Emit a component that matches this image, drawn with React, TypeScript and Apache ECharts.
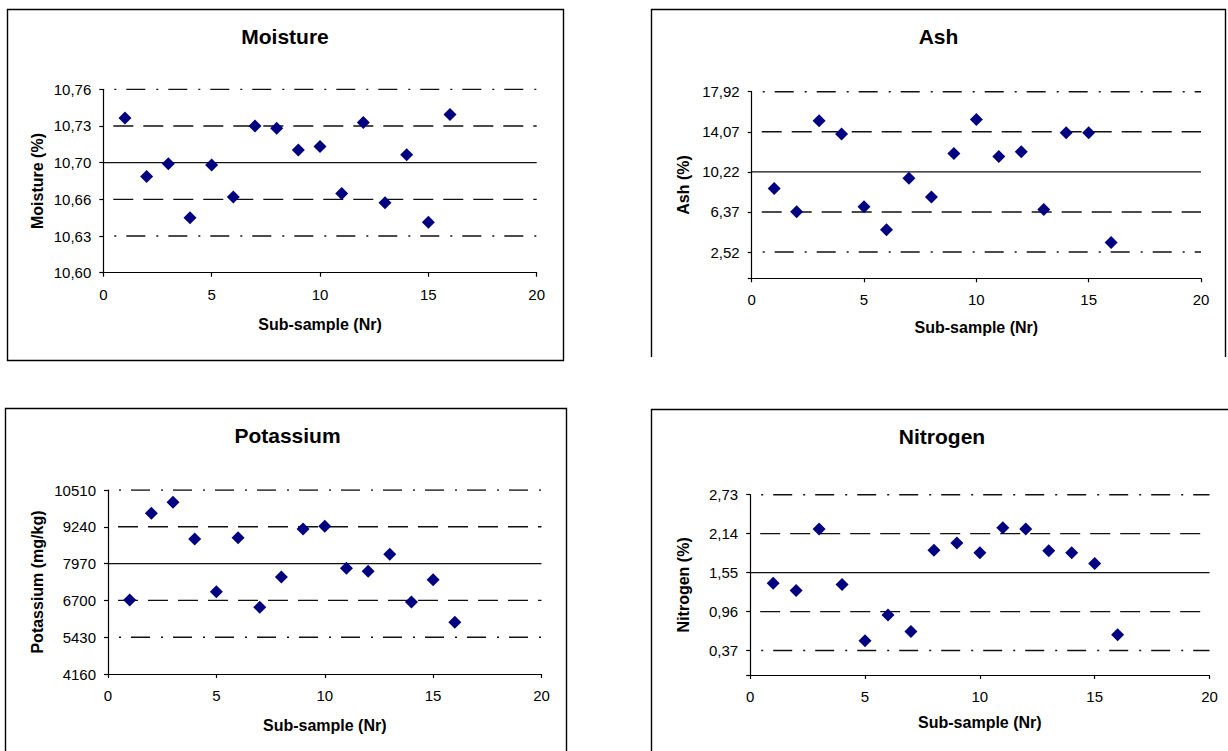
import { useEffect, useRef } from 'react';
import * as echarts from 'echarts';

// ---- data ----
const subSamples = [1, 2, 3, 4, 5, 6, 7, 8, 9, 10, 11, 12, 13, 14, 15, 16];

const moistureValues = [10.735, 10.684, 10.695, 10.648, 10.694, 10.666, 10.728, 10.726, 10.707, 10.71, 10.669, 10.731, 10.661, 10.703, 10.644, 10.738];
const ashValues = [8.62, 6.4, 15.13, 13.85, 6.88, 4.67, 9.61, 7.81, 11.98, 15.26, 11.7, 12.15, 6.6, 13.97, 13.97, 3.45];
const potassiumValues = [6714, 9705, 10084, 8819, 7001, 8865, 6461, 7508, 9164, 9256, 7807, 7703, 8290, 6645, 7416, 5943];
const nitrogenValues = [1.39, 1.28, 2.21, 1.37, 0.52, 0.91, 0.66, 1.89, 2.0, 1.85, 2.23, 2.21, 1.88, 1.85, 1.69, 0.61];

// mean-2sd, mean-sd, mean, mean+sd, mean+2sd
const moistureLevels = [10.632, 10.664, 10.696, 10.728, 10.76];
const ashLevels = [2.52, 6.37, 10.22, 14.07, 17.92];
const potassiumLevels = [5430, 6700, 7970, 9240, 10510];
const nitrogenLevels = [0.37, 0.96, 1.55, 2.14, 2.73];

// y tick label values
const moistureTickLabels = [10.6, 10.632, 10.664, 10.696, 10.728, 10.76];
const ashTickLabels = [2.52, 6.37, 10.22, 14.07, 17.92];
const potassiumTickLabels = [4160, 5430, 6700, 7970, 9240, 10510];
const nitrogenTickLabels = [0.37, 0.96, 1.55, 2.14, 2.73];

const xTickLabels = [0, 5, 10, 15, 20];

const titles = ['Moisture', 'Ash', 'Potassium', 'Nitrogen'];
const yNames = ['Moisture (%)', 'Ash (%)', 'Potassium (mg/kg)', 'Nitrogen (%)'];
const xName = 'Sub-sample (Nr)';

// ---- layout (pixels) ----
const panels = [
  { values: moistureValues, levels: moistureLevels, labels: moistureTickLabels, ticks: moistureTickLabels, min: 10.6, max: 10.76, dec: 2,
    grid: { left: 103.3, top: 89.3, width: 433.4, height: 183.4 }, title: [285, 36.5], yGap: 58, xGap: 44 },
  { values: ashValues, levels: ashLevels, labels: ashTickLabels, ticks: [0].concat(ashTickLabels), min: 0, max: 17.92, dec: 2,
    grid: { left: 751.7, top: 91.7, width: 449.3, height: 186.6 }, title: [938.5, 36.5], yGap: 60, xGap: 41 },
  { values: potassiumValues, levels: potassiumLevels, labels: potassiumTickLabels, ticks: potassiumTickLabels, min: 4160, max: 10510, dec: 0,
    grid: { left: 108, top: 490, width: 433.5, height: 184 }, title: [287.5, 435.5], yGap: 63, xGap: 43 },
  { values: nitrogenValues, levels: nitrogenLevels, labels: nitrogenTickLabels, ticks: [0].concat(nitrogenTickLabels), min: 0, max: 2.73, dec: 2,
    grid: { left: 750.2, top: 494.7, width: 459.3, height: 180.3 }, title: [942, 436.5], yGap: 59, xGap: 39 },
];

const levelStyles: any[] = [
  { type: [19, 11, 2, 10], dashOffset: 19 },
  { type: [20, 10], dashOffset: 20 },
  { type: 'solid' },
  { type: [20, 10], dashOffset: 20 },
  { type: [19, 11, 2, 10], dashOffset: 19 },
];

const tickFont = { color: '#000', fontSize: 15, fontFamily: 'Liberation Sans, Arial, sans-serif' };
const nameFont = { color: '#000', fontSize: 16, fontWeight: 'bold' as const, fontFamily: 'Liberation Sans, Arial, sans-serif' };

function buildOption() {
  const grid: any[] = [];
  const xAxis: any[] = [];
  const yAxis: any[] = [];
  const series: any[] = [];
  const graphic: any[] = [];

  panels.forEach((p, i) => {
    grid.push({ ...p.grid, containLabel: false });
    xAxis.push({
      type: 'value', gridIndex: i, min: 0, max: 20, interval: 5,
      axisLine: { show: true, onZero: false, lineStyle: { color: '#000', width: 1.2 } },
      axisTick: { show: true, inside: false, length: 4, lineStyle: { color: '#000', width: 1.2 } },
      axisLabel: { ...tickFont, margin: 14, customValues: xTickLabels },
      splitLine: { show: false },
      name: xName, nameLocation: 'middle', nameGap: p.xGap, nameTextStyle: nameFont,
    });
    yAxis.push({
      type: 'value', gridIndex: i, min: p.min, max: p.max,
      axisLine: { show: true, onZero: false, lineStyle: { color: '#000', width: 1.2 } },
      axisTick: { show: true, inside: false, length: 4, lineStyle: { color: '#000', width: 1.2 }, customValues: p.ticks },
      axisLabel: {
        ...tickFont, margin: 12, customValues: p.labels,
        formatter: (v: number) => v.toFixed(p.dec).replace('.', ','),
      },
      splitLine: { show: false },
      name: yNames[i], nameLocation: 'middle', nameGap: p.yGap, nameTextStyle: nameFont,
    });
    p.levels.forEach((lv, k) => {
      series.push({
        type: 'line', xAxisIndex: i, yAxisIndex: i, symbol: 'none', silent: true, z: 2,
        data: [[0, lv], [20, lv]],
        lineStyle: { color: '#111', width: 1.4, ...levelStyles[k] },
      });
    });
    series.push({
      type: 'scatter', xAxisIndex: i, yAxisIndex: i, z: 3,
      symbol: 'diamond', symbolSize: 13,
      itemStyle: { color: '#000080', opacity: 1 },
      data: subSamples.map((x, k) => [x, p.values[k]]),
    });
    graphic.push({
      type: 'text', x: p.title[0], y: p.title[1],
      style: {
        text: titles[i], fill: '#000', fontSize: 21, fontWeight: 'bold', fontFamily: 'Liberation Sans, Arial, sans-serif',
        align: 'center', verticalAlign: 'middle', textAlign: 'center', textVerticalAlign: 'middle',
      },
    });
  });

  // panel frames
  const frameStyle = { stroke: '#000', fill: 'none', lineWidth: 1.4 };
  graphic.push(
    { type: 'rect', shape: { x: 7.5, y: 9.5, width: 556, height: 351 }, style: frameStyle },
    { type: 'polyline', shape: { points: [[651.5, 357], [651.5, 9.5], [1225.5, 9.5], [1225.5, 357]] }, style: frameStyle },
    { type: 'polyline', shape: { points: [[5.5, 752], [5.5, 408.5], [566.5, 408.5], [566.5, 752]] }, style: frameStyle },
    { type: 'polyline', shape: { points: [[651.5, 752], [651.5, 409.5], [1229, 409.5]] }, style: frameStyle },
  );

  return {
    animation: false,
    backgroundColor: '#fff',
    grid, xAxis, yAxis, series, graphic,
  };
}

export default function App() {
  const ref = useRef<HTMLDivElement>(null);
  useEffect(() => {
    if (!ref.current) return;
    const chart = echarts.init(ref.current, undefined, { renderer: 'svg' });
    chart.setOption(buildOption() as any);
    return () => chart.dispose();
  }, []);
  return (
    <div
      ref={ref}
      style={{ position: 'fixed', left: 0, top: 0, width: 1228, height: 751, background: '#fff' }}
    />
  );
}
